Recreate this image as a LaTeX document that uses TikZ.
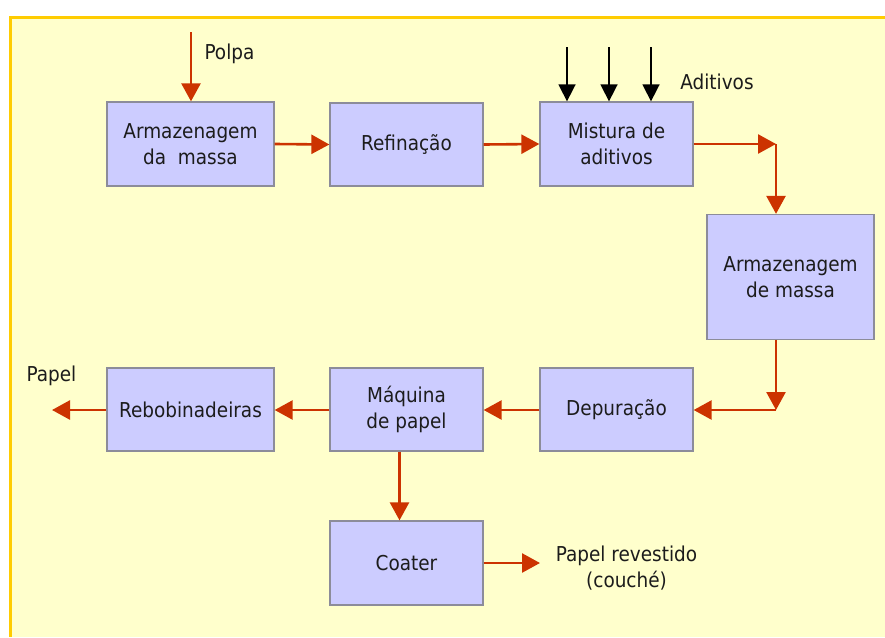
\documentclass[tikz,border=0pt]{standalone}
\usepackage{fontspec}
\setmainfont{DejaVu Sans Condensed}
\usetikzlibrary{arrows.meta}
\definecolor{paper}{HTML}{FFFFCC}
\definecolor{frame}{HTML}{FFCC00}
\definecolor{boxfill}{HTML}{CCCCFF}
\definecolor{boxline}{HTML}{8C8C9A}
\definecolor{flow}{HTML}{CC3300}
\definecolor{ink}{HTML}{1C1C1C}
\tikzset{
  stage/.style={draw=boxline, line width=1.3pt, fill=boxfill, text=ink,
    align=center, inner sep=0pt, font=\fontsize{20.5}{25.5}\selectfont},
  lbl/.style={text=ink, align=center, inner sep=0pt, font=\fontsize{20.5}{25.5}\selectfont},
  flowarrow/.style={draw=flow, line width=2.6pt, -{Triangle[length=18pt,width=19pt]}},
  feed/.style={draw=black, line width=1.6pt, -{Triangle[length=17pt,width=17pt]}}
}
\begin{document}
\begin{tikzpicture}[x=1pt, y=-1pt]
  \useasboundingbox (0,0) rectangle (885,637);
  % panel
  \fill[paper] (10,17) rectangle (885,637);
  \draw[frame, line width=3.2pt] (10.5,637) -- (10.5,17.5) -- (885,17.5);

  % process stages
  \node[stage, minimum width=167pt, minimum height=84pt] (arm1) at (190.5,144) {Armazenagem\\da\ \ massa};
  \node[stage, minimum width=153pt, minimum height=83pt] (ref) at (406.5,144.5) {Refinação};
  \node[stage, minimum width=153pt, minimum height=84pt] (mis) at (616.5,144) {Mistura de\\aditivos};
  \node[stage, minimum width=167pt, minimum height=125pt] (arm2) at (790.5,277) {Armazenagem\\de massa};
  \node[stage, minimum width=153pt, minimum height=83pt] (dep) at (616.5,409.5) {Depuração};
  \node[stage, minimum width=153pt, minimum height=83pt] (maq) at (406.5,409.5) {Máquina\\de papel};
  \node[stage, minimum width=167pt, minimum height=83pt] (reb) at (190.5,409.5) {Rebobinadeiras};
  \node[stage, minimum width=153pt, minimum height=84pt] (coat) at (406.5,563) {Coater};

  % labels
  \node[lbl] (polpa) at (229.5,54) {Polpa};
  \node[lbl] (adit) at (717,82) {Aditivos};
  \node[lbl] (papel) at (51.5,376) {Papel};
  \node[lbl] (rev) at (626.5,568) {Papel revestido\\(couché)};

  % free ends and corners
  \coordinate (polpaIn) at (191,32);
  \coordinate (ad1) at (567,47);
  \coordinate (ad2) at (609,47);
  \coordinate (ad3) at (651,47);
  \coordinate (cornerA) at (776,144);
  \coordinate (cornerB) at (776,410);
  \coordinate (papelOut) at (52,410);
  \coordinate (revOut) at (540,563);

  % main flow
  \draw[flowarrow] (polpaIn) -- (arm1.north -| polpaIn);
  \draw[flowarrow] (arm1.east) -- (ref.west);
  \draw[flowarrow] (ref.east) -- (mis.west);
  \draw[flowarrow] (mis.east) -- (cornerA);
  \draw[flowarrow] (cornerA) -- (arm2.north -| cornerA);
  \draw[flowarrow] (arm2.south -| cornerB) -- (cornerB);
  \draw[flowarrow] (cornerB) -- (dep.east |- cornerB);
  \draw[flowarrow] (dep.west |- cornerB) -- (maq.east |- cornerB);
  \draw[flowarrow] (maq.west |- cornerB) -- (reb.east |- cornerB);
  \draw[flowarrow] (reb.west |- cornerB) -- (papelOut);
  \draw[flowarrow] ([xshift=-7pt]maq.south) -- ([xshift=-7pt]coat.north);
  \draw[flowarrow] (coat.east) -- (revOut);

  % additive feeds
  \draw[feed] (ad1) -- (mis.north -| ad1);
  \draw[feed] (ad2) -- (mis.north -| ad2);
  \draw[feed] (ad3) -- (mis.north -| ad3);
\end{tikzpicture}
\end{document}
